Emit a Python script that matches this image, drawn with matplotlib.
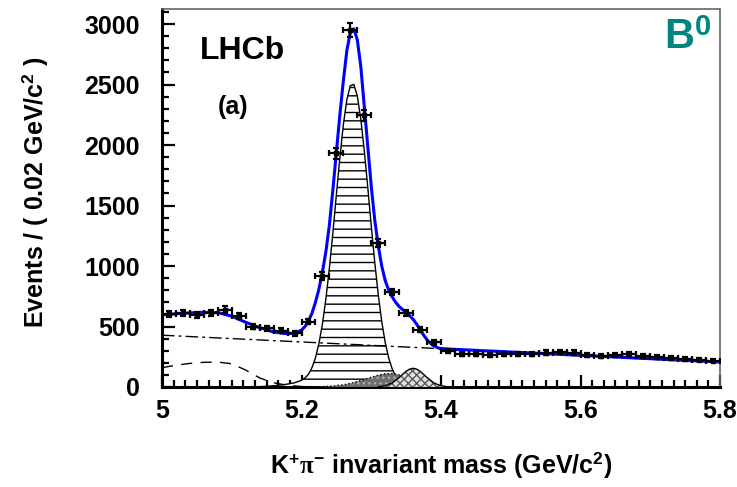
import matplotlib
matplotlib.use('Agg')
import matplotlib.pyplot as plt
from matplotlib.ticker import MultipleLocator, FuncFormatter
import numpy as np

# K+pi- mass spectrum, LHCb B0 panel (a)

#data points, bins of 0.02 GeV
bin_centers = [5.01, 5.03, 5.05, 5.07, 5.09, 5.11, 5.13, 5.15, 5.17, 5.19,
               5.21, 5.23, 5.25, 5.27, 5.29, 5.31, 5.33, 5.35, 5.37, 5.39,
               5.41, 5.43, 5.45, 5.47, 5.49, 5.51, 5.53, 5.55, 5.57, 5.59,
               5.61, 5.63, 5.65, 5.67, 5.69, 5.71, 5.73, 5.75, 5.77, 5.79]
counts = [600, 610, 598, 612, 640, 588, 500, 485, 465, 445,
          540, 917, 1930, 2950, 2245, 1190, 785, 615, 475, 370,
          295, 275, 270, 268, 270, 270, 275, 285, 290, 285,
          265, 258, 265, 270, 255, 248, 240, 233, 226, 218]

#total fit (blue)
fit_mass = [5.00, 5.02, 5.04, 5.06, 5.08, 5.10, 5.12, 5.14, 5.16, 5.18,
            5.19, 5.20, 5.205, 5.21, 5.215, 5.22, 5.225, 5.23, 5.235, 5.24,
            5.245, 5.25, 5.255, 5.26, 5.265, 5.27, 5.275, 5.28, 5.285, 5.29,
            5.295, 5.30, 5.305, 5.31, 5.315, 5.32, 5.325, 5.33, 5.335, 5.34,
            5.345, 5.35, 5.355, 5.36, 5.365, 5.37, 5.375, 5.38, 5.385, 5.39,
            5.395, 5.40, 5.41, 5.42, 5.44, 5.46, 5.48, 5.50, 5.52, 5.54,
            5.56, 5.58, 5.60, 5.62, 5.64, 5.66, 5.68, 5.70, 5.72, 5.74,
            5.76, 5.78, 5.80]
fit_total = [595, 605, 612, 618, 615, 585, 535, 490, 455, 440,
             445, 470, 500, 545, 610, 700, 810, 950, 1120, 1340,
             1630, 1940, 2250, 2530, 2780, 2930, 2960, 2870, 2650, 2320,
             1990, 1660, 1380, 1170, 1000, 880, 800, 745, 700, 665,
             640, 615, 590, 560, 520, 475, 430, 390, 360, 340,
             325, 318, 314, 311, 306, 300, 295, 289, 284, 278,
             273, 267, 262, 256, 251, 245, 239, 234, 228, 223,
             217, 212, 207]

#B0 -> K pi signal (hatched)
sig_mass = [5.14, 5.15, 5.16, 5.17, 5.18, 5.19, 5.20, 5.205, 5.21, 5.215,
            5.22, 5.225, 5.23, 5.235, 5.24, 5.245, 5.25, 5.255, 5.26, 5.265,
            5.27, 5.275, 5.28, 5.285, 5.29, 5.295, 5.30, 5.305, 5.31, 5.315,
            5.32, 5.325, 5.33, 5.335, 5.34, 5.345, 5.35, 5.355, 5.36, 5.37]
sig_yield = [3, 6, 10, 16, 24, 35, 55, 75, 105, 160,
             240, 360, 520, 730, 985, 1275, 1590, 1895, 2168, 2374,
             2490, 2501, 2406, 2215, 1954, 1650, 1333, 1031, 765, 543,
             368, 240, 150, 89, 51, 28, 15, 7, 3, 0]

#combinatorial background (dash-dot)
comb_mass = [5.0, 5.8]
comb_yield = [428, 205]

#partially reconstructed 3-body (dashed)
part_mass = [5.00, 5.02, 5.04, 5.06, 5.08, 5.10, 5.12, 5.14, 5.16, 5.18, 5.20, 5.22]
part_yield = [160, 180, 195, 204, 206, 192, 140, 75, 35, 14, 4, 0]

#misidentified two-body decays (grey, dotted)
misid_mass = [5.22, 5.24, 5.26, 5.27, 5.28, 5.29, 5.30, 5.31, 5.32, 5.33,
              5.34, 5.35, 5.36, 5.37, 5.38, 5.39]
misid_yield = [0, 6, 18, 30, 45, 62, 80, 98, 110, 112,
               100, 75, 45, 20, 7, 0]

#Bs -> K pi (cross hatched)
bs_mass = [5.31, 5.32, 5.33, 5.34, 5.345, 5.35, 5.355, 5.36, 5.365, 5.37,
           5.375, 5.38, 5.39, 5.40, 5.41, 5.42]
bs_yield = [2, 10, 33, 78, 105, 130, 148, 155, 148, 130,
            105, 78, 33, 10, 2, 0]

plt.rcParams['font.family'] = ['Liberation Sans', 'DejaVu Sans']
plt.rcParams['font.weight'] = 'bold'
plt.rcParams['mathtext.fontset'] = 'custom'
plt.rcParams['mathtext.rm'] = 'Liberation Sans:bold'
plt.rcParams['mathtext.bf'] = 'Liberation Sans:bold'
plt.rcParams['mathtext.it'] = 'Liberation Serif'
plt.rcParams['hatch.linewidth'] = 1.0

fig = plt.figure(figsize=(7.37, 4.87), dpi=100)
ax = fig.add_axes([162/737, 100/487, 558/737, 378/487])

#signal
ax.fill_between(sig_mass, 0, sig_yield, facecolor='white', edgecolor='black',
                hatch='--', lw=1.0, zorder=2)

#misid
ax.fill_between(misid_mass, 0, misid_yield, facecolor='#6e6e6e', edgecolor='#b0b0b0',
                hatch='...', lw=0, zorder=3)
ax.plot(misid_mass, misid_yield, color='black', lw=1.0, ls=':', zorder=3)

#Bs
ax.fill_between(bs_mass, 0, bs_yield, facecolor='#e0e0e0', edgecolor='#5a5a5a',
                hatch='xxxx', lw=0, zorder=3)
ax.plot(bs_mass, bs_yield, color='black', lw=1.0, zorder=3)

#backgrounds
ax.plot(comb_mass, comb_yield, color='black', lw=1.0, dashes=[9, 3, 2, 3], zorder=4)
ax.plot(part_mass, part_yield, color='black', lw=1.0, dashes=[8, 6], zorder=4)

#total fit
ax.plot(fit_mass, fit_total, color='#0000ff', lw=2.2, zorder=5)

#data
counts = np.array(counts)
ax.errorbar(bin_centers, counts, yerr=np.sqrt(counts), xerr=0.01, fmt='s', ms=3.5,
            color='black', ecolor='black', elinewidth=1.6, capsize=2.5, capthick=1.6,
            zorder=6)

ax.set_xlim(5.0, 5.8)
ax.set_ylim(0, 3124)

ax.xaxis.set_major_locator(MultipleLocator(0.2))
ax.xaxis.set_minor_locator(MultipleLocator(0.2/12))
ax.yaxis.set_major_locator(MultipleLocator(500))
ax.yaxis.set_minor_locator(MultipleLocator(100))
ax.xaxis.set_major_formatter(FuncFormatter(lambda v, p: '%g' % round(v, 2)))

ax.tick_params(which='both', direction='in', top=False, right=False, width=1.6, labelsize=18)
ax.tick_params(which='major', length=9)
ax.tick_params(which='minor', length=5)
ax.tick_params(axis='x', pad=9)
ax.tick_params(axis='y', pad=16)

for s in ['left', 'bottom']:
    ax.spines[s].set_linewidth(2.2)
    ax.spines[s].set_color('black')
for s in ['top', 'right']:
    ax.spines[s].set_linewidth(1.2)
    ax.spines[s].set_color('#666666')

fig.text(35/737, 1-192/487, r'Events / ( 0.02 GeV/c$^{2}$ )', fontsize=18,
         rotation=90, ha='center', va='center')
fig.text(441/737, 1-465/487, r'K$^{+}\pi^{-}$ invariant mass (GeV/c$^{2}$)', fontsize=18,
         ha='center', va='center')
fig.text(243/737, 1-51/487, 'LHCb', fontsize=23, ha='center', va='center')
fig.text(233/737, 1-107/487, '(a)', fontsize=18, ha='center', va='center')
fig.text(688/737, 1-38/487, r'B$^{\mathbf{0}}$', fontsize=30, color='#00857f',
         ha='center', va='center')

plt.savefig('out.png', dpi=100)
